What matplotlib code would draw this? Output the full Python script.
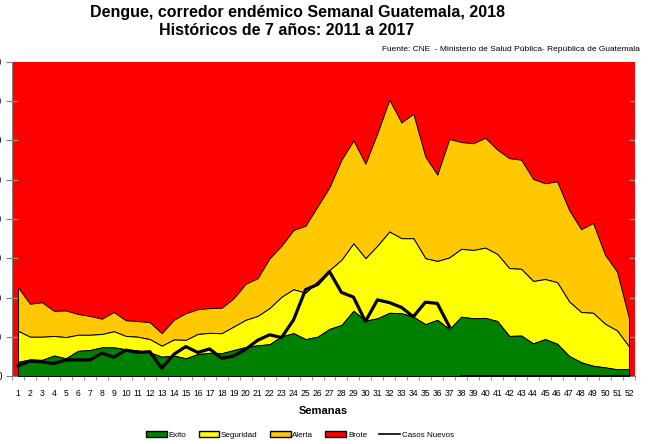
import numpy as np
import matplotlib.pyplot as plt
from matplotlib.patches import Patch
from matplotlib.lines import Line2D

plt.rcParams['font.family'] = ['Liberation Sans', 'DejaVu Sans']

semanas = np.arange(1, 53)

# upper limit of each zone (cumulative)
exito = [36, 42, 41, 52, 45, 64, 66, 73, 73, 68, 65, 60, 49, 52, 45, 56, 59, 58,
         66, 74, 78, 81, 101, 109, 94, 100, 120, 130, 166, 141, 147, 161, 160,
         151, 132, 143, 119, 151, 147, 148, 140, 102, 103, 83, 94, 82, 51, 35,
         26, 22, 17, 18]
seguridad = [115, 100, 100, 102, 99, 105, 105, 107, 114, 102, 100, 94, 77, 93,
             92, 107, 110, 109, 126, 143, 153, 173, 202, 221, 212, 241, 270, 296,
             338, 300, 332, 368, 351, 351, 300, 293, 302, 324, 321, 327, 311, 275,
             273, 242, 247, 239, 190, 163, 161, 133, 116, 75]
alerta = [226, 184, 188, 166, 167, 158, 153, 146, 163, 142, 140, 137, 109, 143,
          160, 170, 173, 174, 198, 235, 249, 300, 332, 372, 383, 432, 481, 551,
          600, 541, 619, 704, 646, 668, 559, 513, 604, 596, 593, 607, 577, 555,
          551, 502, 491, 496, 423, 374, 390, 309, 266, 147]
casos = [26, 38, 36, 32, 41, 41, 41, 58, 48, 66, 60, 62, 20, 55, 75, 60, 69, 45,
         51, 68, 91, 105, 98, 143, 220, 233, 266, 213, 201, 139, 194, 187, 175,
         151, 188, 185, 126, 0, 0, 0, 0, 0, 0, 0, 0, 0, 0, 0, 0, 0, 0, 0]
ultima_semana = 37
y_max = 800

c_exito = '#008000'
c_seg = '#FFFF00'
c_alerta = '#FFC800'
c_brote = '#FF0000'

fig = plt.figure(figsize=(6.5, 4.44), dpi=100)
ax = fig.add_axes([12 / 650, 68 / 444, 623 / 650, 314 / 444])
ax.set_facecolor(c_brote)

ax.fill_between(semanas, alerta, y_max, color=c_brote, lw=0, zorder=2)
ax.fill_between(semanas, seguridad, alerta, facecolor=c_alerta, edgecolor='black', lw=0.7, zorder=3)
ax.fill_between(semanas, exito, seguridad, facecolor=c_seg, edgecolor='black', lw=0.7, zorder=3)
ax.fill_between(semanas, 0, exito, facecolor=c_exito, edgecolor='black', lw=0.7, zorder=3)
for y in range(100, y_max, 100):
    ax.axhline(y, color='#8c8c8c', lw=1.0, zorder=1.5)

ax.plot(semanas[:ultima_semana], casos[:ultima_semana], color='black', lw=2.3, zorder=5)
ax.plot(semanas[ultima_semana:], casos[ultima_semana:], color='black', lw=2.3, zorder=5)

ax.set_xlim(0.5, 52.5)
ax.set_ylim(0, y_max)
ax.set_xticks(semanas)
ax.set_xticklabels([str(s) for s in semanas], fontsize=6.2)
ax.set_xticks(np.arange(0.5, 53, 1), minor=True)
ax.tick_params(axis='x', which='major', length=0, pad=9)
ax.tick_params(axis='x', which='minor', length=3, color='#808080')
ax.set_yticks(range(0, y_max + 1, 100))
ax.set_yticklabels([str(v) for v in range(0, y_max + 1, 100)], fontsize=7)
ax.tick_params(axis='y', length=4, color='#808080', pad=3.5)
for s in ['top', 'right']:
    ax.spines[s].set_visible(False)
ax.spines['left'].set_color('#808080')
ax.spines['bottom'].set_color('#808080')

ax.set_xlabel('Semanas', fontsize=8, fontweight='bold', labelpad=6)

fig.text(298 / 650, 1 - 12.7 / 444, 'Dengue, corredor endémico Semanal Guatemala, 2018',
         ha='center', va='center', fontsize=11.5, fontweight='bold')
fig.text(287 / 650, 1 - 30.5 / 444, 'Históricos de 7 años: 2011 a 2017',
         ha='center', va='center', fontsize=11.5, fontweight='bold')
fig.text(0.985, 0.888, 'Fuente: CNE  - Ministerio de Salud Pública- República de Guatemala',
         ha='right', va='center', fontsize=6)

handles = [Patch(facecolor=c_exito, edgecolor='black', label='Exito'),
           Patch(facecolor=c_seg, edgecolor='black', label='Seguridad'),
           Patch(facecolor=c_alerta, edgecolor='black', label='Alerta'),
           Patch(facecolor=c_brote, edgecolor='black', label='Brote'),
           Line2D([], [], color='black', lw=1.2, label='Casos Nuevos')]
fig.legend(handles=handles, loc='center', bbox_to_anchor=(300 / 650, 0.02), ncol=5,
           frameon=False, fontsize=5.8, handlelength=2.6, handleheight=0.6,
           handletextpad=0.2, columnspacing=1.5)

fig.savefig('out.png', dpi=100)
